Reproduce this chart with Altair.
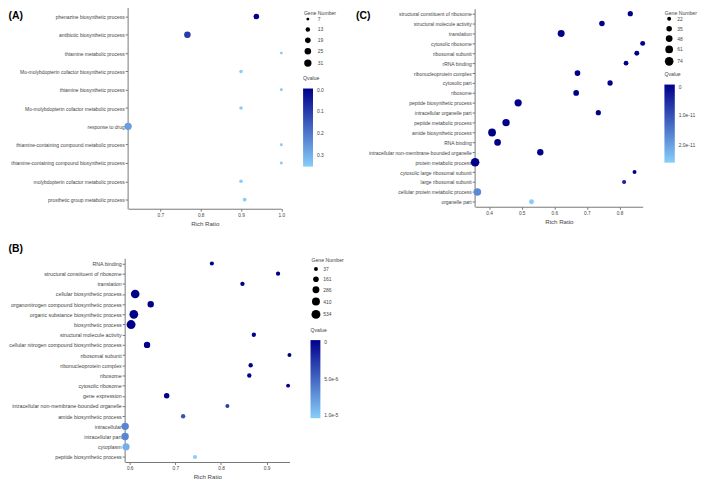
import altair as alt
import pandas as pd

# ---------------- Panel A ----------------
a_terms = [
    "phenazine biosynthetic process",
    "antibiotic biosynthetic process",
    "thiamine metabolic process",
    "Mo-molybdopterin cofactor biosynthetic process",
    "thiamine biosynthetic process",
    "Mo-molybdopterin cofactor metabolic process",
    "response to drug",
    "thiamine-containing compound metabolic process",
    "thiamine-containing compound biosynthetic process",
    "molybdopterin cofactor metabolic process",
    "prosthetic group metabolic process",
]
a_ratio = [0.938, 0.767, 1.0, 0.9, 1.0, 0.9, 0.62, 1.0, 1.0, 0.9, 0.909]
a_genes = [19, 25, 7, 9, 7, 9, 31, 7, 7, 9, 10]
a_qvalue = [0.0, 0.1, 0.35, 0.35, 0.35, 0.35, 0.27, 0.35, 0.35, 0.35, 0.35]

# ---------------- Panel B ----------------
b_terms = [
    "RNA binding",
    "structural constituent of ribosome",
    "translation",
    "cellular biosynthetic process",
    "organonitrogen compound biosynthetic process",
    "organic substance biosynthetic process",
    "biosynthetic process",
    "structural molecule activity",
    "cellular nitrogen compound biosynthetic process",
    "ribosomal subunit",
    "ribonucleoprotein complex",
    "ribosome",
    "cytosolic ribosome",
    "gene expression",
    "intracellular non-membrane-bounded organelle",
    "amide biosynthetic process",
    "intracellular",
    "intracellular part",
    "cytoplasm",
    "peptide biosynthetic process",
]
b_ratio = [0.78, 0.925, 0.847, 0.612, 0.646, 0.609, 0.603, 0.872, 0.638, 0.95,
           0.865, 0.862, 0.947, 0.681, 0.814, 0.717, 0.59, 0.59, 0.592, 0.743]
b_genes = [48, 60, 62, 500, 240, 510, 534, 62, 230, 40,
           63, 62, 37, 150, 40, 65, 350, 345, 320, 44]
b_qvalue = [0.0, 0.0, 0.0, 0.0, 0.0, 0.0, 0.0, 0.0, 0.0, 0.0,
            0.0, 0.0, 0.0, 0.0, 3.0e-6, 4.0e-6, 6.5e-6, 6.5e-6, 8.5e-6, 1.0e-5]

# ---------------- Panel C ----------------
c_terms = [
    "structural constituent of ribosome",
    "structural molecule activity",
    "translation",
    "cytosolic ribosome",
    "ribosomal subunit",
    "rRNA binding",
    "ribonucleoprotein complex",
    "cytosolic part",
    "ribosome",
    "peptide biosynthetic process",
    "intracellular organelle part",
    "peptide metabolic process",
    "amide biosynthetic process",
    "RNA binding",
    "intracellular non-membrane-bounded organelle",
    "protein metabolic process",
    "cytosolic large ribosomal subunit",
    "large ribosomal subunit",
    "cellular protein metabolic process",
    "organelle part",
]
c_ratio = [0.833, 0.746, 0.621, 0.871, 0.853, 0.820, 0.671, 0.771, 0.667, 0.489,
           0.735, 0.452, 0.409, 0.426, 0.557, 0.357, 0.846, 0.814, 0.364, 0.530]
c_genes = [33, 35, 51, 30, 30, 28, 37, 33, 37, 55,
           32, 57, 62, 47, 44, 74, 22, 23, 58, 30]
c_qvalue = [0.0, 0.0, 0.0, 0.0, 0.0, 0.0, 0.0, 0.0, 0.0, 0.0,
            0.0, 0.0, 0.0, 0.0, 0.0, 0.0, 0.0, 0.4e-11, 1.7e-11, 2.55e-11]

DARK = "#00008B"
LIGHT = "#87CEFA"
FONT = "Liberation Sans"
GREY_LINE = "#777777"
GREY_TEXT = "#444444"


def panel(terms, ratio, genes, qvalue, xr, yr, xticks, label_size,
          size_dom, size_rng, size_vals, q_max, q_vals, q_expr,
          lx_size, lx_q, ly_size, ly_q, lab_off, grad_thick,
          size_title_pad, size_row_pad):
    df = pd.DataFrame({"term": terms, "ratio": ratio, "genes": genes, "q": qvalue})
    return alt.Chart(df).mark_circle(opacity=1).encode(
        x=alt.X(
            "ratio:Q",
            title="Rich Ratio",
            scale=alt.Scale(zero=False, nice=False, range=xr),
            axis=alt.Axis(
                orient="bottom", offset=yr[1] - 484, values=xticks, format=".1f",
                grid=False, tickSize=2.5, labelPadding=1, labelFontSize=4.8,
                labelFlush=False, labelOverlap=False, titleFontSize=6.2,
                titleFontWeight="normal", titlePadding=3.5,
                domainColor=GREY_LINE, tickColor=GREY_LINE,
                labelColor=GREY_TEXT, titleColor=GREY_TEXT,
            ),
        ),
        y=alt.Y(
            "term:N",
            sort=terms,
            scale=alt.Scale(type="point", padding=0.5, range=yr),
            axis=alt.Axis(
                orient="left", offset=-(xr[0] - 0.5), title=None, grid=False,
                tickSize=2.5, labelPadding=1, labelFontSize=label_size,
                labelLimit=400, labelOverlap=False,
                domainColor=GREY_LINE, tickColor=GREY_LINE, labelColor=GREY_TEXT,
            ),
        ),
        size=alt.Size(
            "genes:Q",
            scale=alt.Scale(domain=size_dom, range=size_rng, zero=False),
            legend=alt.Legend(
                title="Gene Number", orient="none", legendX=lx_size, legendY=ly_size,
                direction="vertical", values=size_vals, symbolType="circle",
                symbolFillColor="black", symbolStrokeWidth=0, symbolOpacity=1,
                titleFontSize=5.2, titleFontWeight="normal", titleColor=GREY_TEXT,
                titlePadding=size_title_pad, labelFontSize=5, labelColor=GREY_TEXT,
                labelOffset=lab_off, rowPadding=size_row_pad, padding=0,
            ),
        ),
        color=alt.Color(
            "q:Q",
            scale=alt.Scale(domain=[q_max, 0], range=[LIGHT, DARK], interpolate="rgb"),
            legend=alt.Legend(
                title="Qvalue", orient="none", legendX=lx_q, legendY=ly_q,
                direction="vertical", values=q_vals, labelExpr=q_expr,
                gradientLength=79, gradientThickness=grad_thick,
                gradientStrokeWidth=0, titleFontSize=5.2,
                titleFontWeight="normal", titleColor=GREY_TEXT, titlePadding=7.5,
                labelFontSize=5, labelColor=GREY_TEXT, labelOffset=4,
                labelBaseline="middle", padding=0,
            ),
        ),
    )


pA = panel(a_terms, a_ratio, a_genes, a_qvalue,
           xr=[129.5, 284.5], yr=[4.6, 208.3], xticks=[0.7, 0.8, 0.9, 1.0],
           label_size=5.0, size_dom=[7, 31], size_rng=[9, 55],
           size_vals=[7, 13, 19, 25, 31], q_max=0.352,
           q_vals=[0, 0.1, 0.2, 0.3], q_expr="format(datum.value, '.1f')",
           lx_size=307.3, lx_q=306.5, ly_size=8, ly_q=74, lab_off=6,
           grad_thick=10, size_title_pad=0.8, size_row_pad=4.5)

pB = panel(b_terms, b_ratio, b_genes, b_qvalue,
           xr=[126.5, 292.7], yr=[258.5, 464.5], xticks=[0.6, 0.7, 0.8, 0.9],
           label_size=5.35, size_dom=[37, 534], size_rng=[16, 81],
           size_vals=[37, 161, 286, 410, 534], q_max=1.0e-5,
           q_vals=[0, 5.0e-6, 1.0e-5],
           q_expr="datum.value == 0 ? '0' : format(datum.value, '.1e')",
           lx_size=315, lx_q=314, ly_size=258, ly_q=328.5, lab_off=3,
           grad_thick=10, size_title_pad=3.5, size_row_pad=4.0)

pC = panel(c_terms, c_ratio, c_genes, c_qvalue,
           xr=[480.5, 650], yr=[6.0, 206.3], xticks=[0.4, 0.5, 0.6, 0.7, 0.8],
           label_size=5.0, size_dom=[22, 74], size_rng=[16, 76],
           size_vals=[22, 35, 48, 61, 74], q_max=2.58e-11,
           q_vals=[0, 1.0e-11, 2.0e-11],
           q_expr="datum.value == 0 ? '0' : format(datum.value, '.1e')",
           lx_size=672.3, lx_q=672, ly_size=8, ly_q=70, lab_off=3.7,
           grad_thick=10.5, size_title_pad=0.5, size_row_pad=3.5)

panel_labels = ["(A)", "(B)", "(C)"]
label_x = [8.5, 8.5, 360]
label_y = [13.5, 249.5, 13.5]


def tag(i):
    return alt.Chart(pd.DataFrame({"t": [panel_labels[i]]})).mark_text(
        fontSize=10.5, fontWeight="bold", align="left", baseline="middle",
        font=FONT, color="black",
    ).encode(text="t:N", x=alt.value(label_x[i]), y=alt.value(label_y[i]))


chart = alt.layer(pA, pB, pC, tag(0), tag(1), tag(2)).resolve_scale(
    x="independent", y="independent", color="independent", size="independent"
).resolve_axis(x="independent", y="independent").resolve_legend(
    color="independent", size="independent"
).properties(
    width=709, height=484,
    autosize=alt.AutoSizeParams(type="none"),
    padding={"left": -8, "top": -8, "right": 0, "bottom": 0},
).configure(font=FONT).configure_view(strokeWidth=0)

chart.save("out.html", embed_options={"renderer": "svg", "actions": False})
